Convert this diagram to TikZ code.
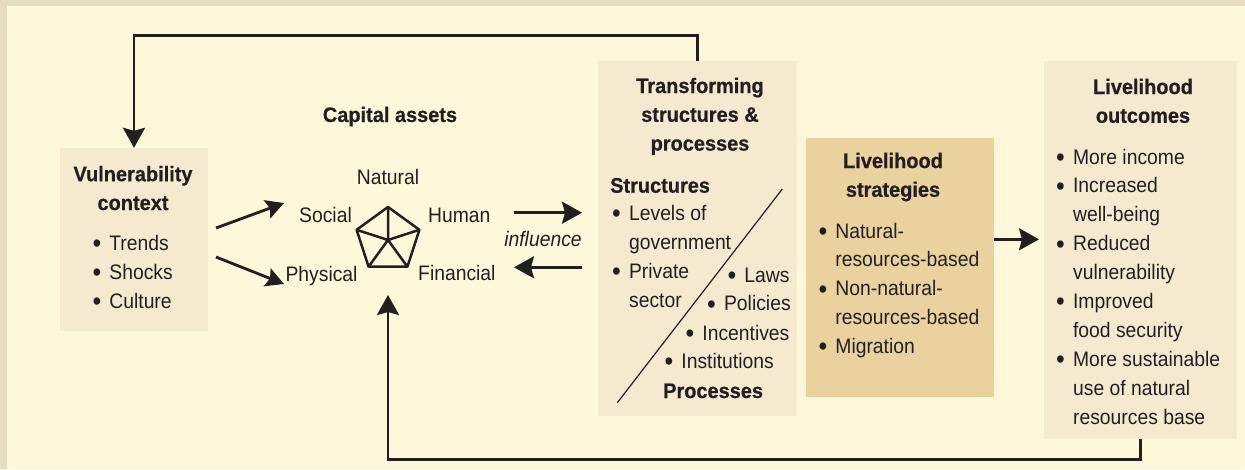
\documentclass[tikz,border=0pt]{standalone}
\usepackage{fontspec}
\setmainfont{Liberation Sans}[FakeStretch=0.92]
\newfontfamily\bfam{Liberation Sans}[FakeStretch=0.95, FakeBold=0.6]
\usetikzlibrary{arrows.meta}
\definecolor{frame}{HTML}{E6DDC0}
\definecolor{cream}{HTML}{FEF8DA}
\definecolor{boxc}{HTML}{F5EAD0}
\definecolor{strat}{HTML}{E9D29D}
\definecolor{ink}{HTML}{231F20}
\newcommand\bl{\makebox[15.5pt][l]{\hspace*{-1.4pt}\raisebox{-2.4pt}{\fontsize{27}{27}\selectfont •}}}
\newcommand\hg{\hspace*{15.5pt}}
\begin{document}
\begin{tikzpicture}[x=1pt,y=-1pt,
  reg/.style={font=\fontsize{21}{29.2}\selectfont, inner sep=0pt, text=ink},
  hd/.style={font=\bfam\bfseries\fontsize{21}{28.8}\selectfont, inner sep=0pt, text=ink},
  panel/.style={draw=none, inner sep=0pt, fill=boxc},
  conn/.style={draw=ink, line width=2.8pt, -{Stealth[length=20pt,width=22pt,inset=3pt]}},
  sconn/.style={draw=ink, line width=2.8pt, -{Stealth[length=18pt,width=19pt,inset=3pt]}},
  pent/.style={draw=ink, line width=2.5pt, line join=round}
]
\useasboundingbox (0,0) rectangle (1245,469);
\fill[frame] (0,0) rectangle (1245,469);
\fill[cream] (7,6) rectangle (1245,469);

% panels
\node[panel, minimum width=148pt, minimum height=183pt] (vul) at (134,239.5) {};
\node[panel, minimum width=199pt, minimum height=355pt] (ts) at (697.5,238.5) {};
\node[panel, fill=strat, minimum width=188pt, minimum height=259pt] (ls) at (900,267.5) {};
\node[panel, minimum width=193pt, minimum height=378pt] (lo) at (1140.5,250) {};

% vulnerability context
\node[hd, align=center, anchor=base] (vt) at (133,210) {Vulnerability\\context};
\node[reg, align=left, anchor=base west] (vl) at (93.7,308.4) {\bl Trends\\\bl Shocks\\\bl Culture};

% capital assets
\node[hd, anchor=base] (cap) at (390,122) {Capital assets};
\draw[pent] (388,207) -- (419.4,229.8) -- (407.4,266.7) -- (368.6,266.7) -- (356.6,229.8) -- cycle;
\coordinate (pc) at (388,240);
\draw[pent] (pc) -- (388,207) (pc) -- (419.4,229.8) (pc) -- (407.4,266.7) (pc) -- (368.6,266.7) (pc) -- (356.6,229.8);
\node[reg, anchor=base] (nat) at (388,184) {Natural};
\node[reg, anchor=base east] (soc) at (352,222) {Social};
\node[reg, anchor=base west] (hum) at (428,222.5) {Human};
\node[reg, anchor=base east] (phy) at (357.7,281) {Physical};
\node[reg, anchor=base west] (fin) at (418,280) {Financial};

% vulnerability -> assets
\coordinate (va1) at (216,228);
\coordinate (va1e) at (284,203);
\coordinate (va2) at (216,257);
\coordinate (va2e) at (284,284);
\draw[sconn] (va1) -- (va1e);
\draw[sconn] (va2) -- (va2e);

% influence
\node[reg, anchor=base, font=\itshape\fontsize{21}{29}\selectfont] (inf) at (543,246.5) {influence};
\coordinate (ia1) at (514,212.7);
\coordinate (ia1e) at (582,212.7);
\coordinate (ia2) at (582,267.3);
\coordinate (ia2e) at (514,267.3);
\draw[conn] (ia1) -- (ia1e);
\draw[conn] (ia2) -- (ia2e);

% transforming structures
\node[hd, align=center, anchor=base] (tst) at (700,150.6) {Transforming\\structures \&\\processes};
\node[hd, anchor=base west] (str) at (610,192.7) {Structures};
\node[reg, align=left, anchor=base west] (sl) at (613.4,307.6) {\bl Levels of\\\hg government\\\bl Private\\\hg sector};
\node[reg, anchor=base west] (laws) at (728.7,282) {\bl Laws};
\node[reg, anchor=base west] (pol) at (708.4,310.7) {\bl Policies};
\node[reg, anchor=base west] (inc) at (686.7,340) {\bl Incentives};
\node[reg, anchor=base west] (inst) at (665.7,368) {\bl Institutions};
\node[hd, anchor=base west] (proc) at (663,398) {Processes};
\draw[ink, line width=1.2pt] (782.3,189) -- (617.3,402.7);

% livelihood strategies
\node[hd, align=center, anchor=base] (lst) at (893,196.8) {Livelihood\\strategies};
\node[reg, align=left, anchor=base west, font=\fontsize{21}{28.8}\selectfont] (lsl) at (819.7,353.2) {\bl Natural-\\\hg resources-based\\\bl Non-natural-\\\hg resources-based\\\bl Migration};

% livelihood outcomes
\node[hd, align=center, anchor=base] (lot) at (1143,122.8) {Livelihood\\outcomes};
\node[reg, align=left, anchor=base west, font=\fontsize{21}{28.9}\selectfont] (lol) at (1057.4,424.1) {\bl More income\\\bl Increased\\\hg well-being\\\bl Reduced\\\hg vulnerability\\\bl Improved\\\hg food security\\\bl More sustainable\\\hg use of natural\\\hg resources base};

% strategies -> outcomes
\coordinate (so1) at (994,239.3);
\coordinate (so1e) at (1039,239.3);
\draw[conn] (so1) -- (so1e);

% feedback loops
\draw[conn] (ts.north) -- ++(0,-25) -| (vul.north);
\coordinate (capb) at (388,295);
\draw[conn] (lo.south) -- ++(0,20) -| (capb);
\end{tikzpicture}
\end{document}
